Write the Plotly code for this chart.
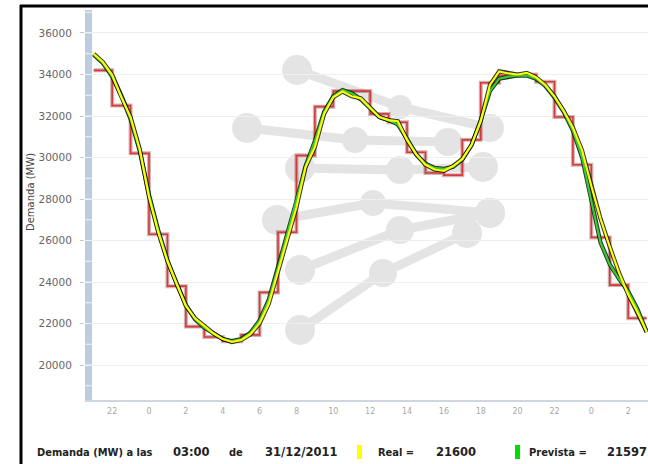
import plotly.graph_objects as go

# ---------------- DATA ----------------
# hours relative to 00:00 of 30/12/2011 (negative = evening of 29/12)
curve_hours = [h / 2 for h in range(-6, 55)]  # -3.0 ... 27.0 every 30 min

real_mw = [35000, 34600, 33980, 32900, 31950, 30400, 28100, 26400, 25000, 23950,
           22850, 22250, 21900, 21530, 21250, 21110, 21200, 21480, 22000, 22950,
           24500, 26100, 27600, 29550, 30500, 32100, 32900, 33180, 32950, 32850,
           32400, 31950, 31800, 31750, 30850, 30150, 29650, 29420, 29360, 29590,
           29930, 30610, 31750, 33500, 34150, 34050, 34000, 34080, 33870, 33500,
           32950, 32250, 31450, 30330, 28630, 27050, 25700, 24450, 23400, 22550,
           21600]

forecast_mw = [34950, 34550, 33900, 32950, 31850, 30300, 28200, 26500, 25050, 23900,
               22900, 22200, 21800, 21500, 21250, 21150, 21250, 21550, 22150, 23150,
               24700, 26300, 27900, 29600, 30800, 32200, 32950, 33250, 33100, 32800,
               32350, 31950, 31800, 31600, 30900, 30150, 29700, 29500, 29450, 29550,
               29900, 30600, 31800, 33200, 33800, 33900, 33950, 33950, 33800, 33450,
               32900, 32200, 31300, 30000, 27900, 25900, 24850, 24150, 23550, 22700,
               21597]

prog_hours = list(range(-3, 27))
prog_mw = [34200, 32500, 30200, 26300, 23800, 21850, 21350, 21150, 21450, 23500,
           26400, 30100, 32450, 33200, 33200, 32100, 31700, 30250, 29250, 29150,
           30850, 33600, 33950, 34000, 33650, 31950, 29650, 26150, 23850, 22250]

tick_hours = list(range(-2, 27, 2))
tick_labels = ["22", "0", "2", "4", "6", "8", "10", "12", "14", "16", "18", "20", "22", "0", "2"]
y_ticks = list(range(20000, 36001, 2000))
y_tick_labels = [str(v) for v in y_ticks]
y_minor = list(range(19000, 37001, 1000))

footer_time = "03:00"
footer_date = "31/12/2011"
footer_real = "21600"
footer_forecast = "21597"

# ---------------- LAYOUT GEOMETRY ----------------
W, H = 648, 464
L, R, T, B = 85, 0, 10, 64
X_RANGE = [-3.473, 27.075]
Y_RANGE = [18314, 37108]
BAND_END = -3.09

def px(xp):
    return (xp - L) / (W - L - R)

def py(yp):
    return (H - B - yp) / (H - T - B)

# step line: extend last hour to the end
step_x = prog_hours + [prog_hours[-1] + 1]
step_y = prog_mw + [prog_mw[-1]]

fig = go.Figure()

# programmed (red steps) with soft shadow
fig.add_trace(go.Scatter(x=step_x, y=step_y, mode="lines", line=dict(shape="hv", color="rgba(110,0,0,0.30)", width=4),
                         hoverinfo="skip", showlegend=False))
fig.add_trace(go.Scatter(x=step_x, y=step_y, mode="lines", line=dict(shape="hv", color="#d43a3a", width=1.6),
                         name="Programada", showlegend=False))
# shadows of forecast/real
fig.add_trace(go.Scatter(x=curve_hours, y=forecast_mw, mode="lines", line=dict(color="rgba(15,15,15,0.85)", width=4.2),
                         hoverinfo="skip", showlegend=False))
fig.add_trace(go.Scatter(x=curve_hours, y=real_mw, mode="lines", line=dict(color="rgba(15,15,15,0.85)", width=4.2),
                         hoverinfo="skip", showlegend=False))
fig.add_trace(go.Scatter(x=curve_hours, y=forecast_mw, mode="lines", line=dict(color="#33cc33", width=2.2),
                         name="Prevista", showlegend=False))
fig.add_trace(go.Scatter(x=curve_hours, y=real_mw, mode="lines", line=dict(color="#ffff00", width=2.2),
                         name="Real", showlegend=False))

shapes = []
# watermark (decorative)
wm_color = "#e4e4e4"
watermark = [
    [(297, 70, 15), (400, 107, 12), (490, 128, 14)],
    [(247, 128, 15), (355, 140, 13), (448, 142, 14)],
    [(300, 168, 15), (400, 170, 14), (483, 167, 15)],
    [(277, 220, 15), (373, 203, 13), (490, 213, 15)],
    [(300, 270, 15), (400, 230, 14), (490, 213, 15)],
    [(300, 330, 15), (383, 273, 14), (467, 233, 15)],
]
for poly in watermark:
    for (x0, y0, _), (x1, y1, _) in zip(poly[:-1], poly[1:]):
        shapes.append(dict(type="line", xref="paper", yref="paper", x0=px(x0), y0=py(y0), x1=px(x1), y1=py(y1),
                           line=dict(color=wm_color, width=9), layer="below"))
    for cx, cy, r in poly:
        shapes.append(dict(type="circle", xref="paper", yref="paper", x0=px(cx - r), x1=px(cx + r),
                           y0=py(cy + r), y1=py(cy - r), fillcolor=wm_color, line=dict(width=0), layer="below"))

# blue band at left
shapes.append(dict(type="rect", xref="x", yref="paper", x0=X_RANGE[0], x1=BAND_END, y0=0, y1=1,
                   fillcolor="#bccde0", line=dict(width=0), layer="below"))
for v in y_minor:
    shapes.append(dict(type="line", xref="x", yref="y", x0=X_RANGE[0], x1=BAND_END, y0=v, y1=v,
                       line=dict(color="#eef2f7", width=1), layer="below"))

# black frame (left + top)
shapes.append(dict(type="line", xref="paper", yref="paper", x0=px(21), x1=px(21), y0=py(5), y1=py(470),
                   line=dict(color="black", width=3), layer="above"))
shapes.append(dict(type="line", xref="paper", yref="paper", x0=px(20), x1=px(660), y0=py(6), y1=py(6),
                   line=dict(color="black", width=3), layer="above"))

# footer colour keys
shapes.append(dict(type="rect", xref="paper", yref="paper", x0=px(357), x1=px(362), y0=py(459), y1=py(445),
                   fillcolor="#ffff00", line=dict(width=0)))
shapes.append(dict(type="rect", xref="paper", yref="paper", x0=px(515), x1=px(520), y0=py(459), y1=py(445),
                   fillcolor="#00dd00", line=dict(width=0)))

word_font = dict(family="DejaVu Sans Condensed, DejaVu Sans", size=11, color="#222222", weight="bold")
num_font = dict(family="DejaVu Sans", size=11.5, color="#222222", weight="bold")
annotations = []
for txt, xp, f in [("Demanda (MW) a las", 35, word_font), (footer_time, 171, num_font), ("de", 227, word_font),
                   (footer_date, 263, num_font), ("Real =", 376, word_font), (footer_real, 434, num_font),
                   ("Prevista =", 527, word_font), (footer_forecast, 605, num_font)]:
    annotations.append(dict(text=txt, xref="paper", yref="paper", x=px(xp), y=py(452), xanchor="left",
                            yanchor="middle", showarrow=False, font=f))

annotations.append(dict(text="Demanda (MW)", xref="paper", yref="paper", x=px(30), y=py(192), textangle=-90,
                        xanchor="center", yanchor="middle", showarrow=False,
                        font=dict(family="DejaVu Sans", size=10, color="#444444")))

fig.update_layout(
    width=W, height=H,
    margin=dict(l=L, r=R, t=T, b=B),
    paper_bgcolor="white", plot_bgcolor="white",
    shapes=shapes, annotations=annotations,
    showlegend=False,
    xaxis=dict(range=X_RANGE, tickmode="array", tickvals=tick_hours, ticktext=tick_labels,
               showgrid=False, zeroline=False, showline=True, linecolor="#cdd7e2", linewidth=2,
               ticks="", tickfont=dict(family="DejaVu Sans", size=8, color="#a8a8a8"), ticklabelstandoff=2),
    yaxis=dict(range=Y_RANGE, tickmode="array", tickvals=y_ticks, ticktext=y_tick_labels,
               showgrid=True, gridcolor="#efefef", gridwidth=1, zeroline=False, showline=False,
               ticks="outside", ticklen=4, tickcolor="#c8c8c8",
               tickfont=dict(family="DejaVu Sans", size=10.5, color="#666666"), ticklabelstandoff=6),
)

fig.write_html("out.html", config={"displayModeBar": False},
               post_script="document.body.style.margin='0px';document.body.style.overflow='hidden';")
